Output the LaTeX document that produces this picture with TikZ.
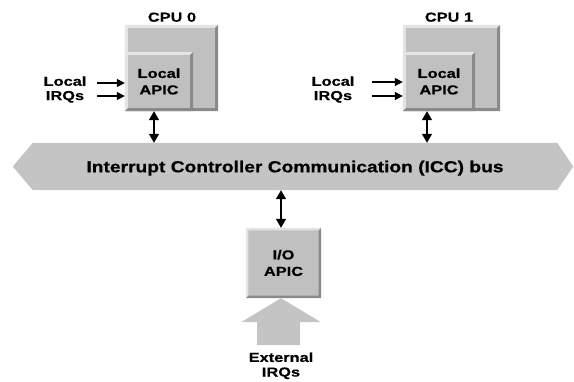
\documentclass[tikz,border=0pt]{standalone}
\usepackage{fontspec}
\setmainfont{Liberation Sans}[FakeStretch=1.26,BoldFeatures={FakeBold=0.6}]
\newfontfamily\busfont{Liberation Sans}[FakeStretch=1.2,BoldFeatures={FakeBold=0.6}]
\usetikzlibrary{arrows.meta,backgrounds}
\definecolor{boxfill}{HTML}{C0C0C0}
\definecolor{bevlight}{HTML}{E4E4E4}
\definecolor{bevdark}{HTML}{8A8A8A}
\definecolor{busfill}{HTML}{C4C4C4}
\newcommand\bevelbox[2]{%
 \fill[bevlight] (#1.south west) -- (#1.north west) -- (#1.north east)
   -- ([xshift=-#2,yshift=-#2]#1.north east) -- ([xshift=#2,yshift=-#2]#1.north west)
   -- ([xshift=#2,yshift=#2]#1.south west) -- cycle;
 \fill[bevdark] (#1.south west) -- (#1.south east) -- (#1.north east)
   -- ([xshift=-#2,yshift=-#2]#1.north east) -- ([xshift=-#2,yshift=#2]#1.south east)
   -- ([xshift=#2,yshift=#2]#1.south west) -- cycle;}
\begin{document}
\begin{tikzpicture}[x=1pt,y=-1pt,
  lbl/.style={font=\bfseries\fontsize{13}{14.3}\selectfont, align=center, inner sep=0pt},
  cpubox/.style={fill=boxfill, inner sep=0pt},
  apicbox/.style={fill=boxfill, inner sep=0pt, font=\bfseries\fontsize{13}{16.5}\selectfont, align=center},
  conn/.style={line width=1.3pt, -{Triangle[length=8pt,width=8pt]}},
  biconn/.style={line width=1.4pt, {Triangle[length=9pt,width=10pt]}-{Triangle[length=9pt,width=10pt]}}]
\useasboundingbox (0,0) rectangle (574,381);
% CPU 0
\node[cpubox, minimum width=93pt, minimum height=86pt] (cpu0) at (171.5,68) {};
\bevelbox{cpu0}{3pt}
\node[apicbox, minimum width=68pt, minimum height=59pt] (apic0) at (159,81.5) {Local\\APIC};
\bevelbox{apic0}{3pt}
\node[lbl] (cpu0lbl) at (172,17.2) {CPU 0};
\node[lbl] (irq0) at (65,89.5) {Local\\IRQs};
% CPU 1
\node[cpubox, minimum width=97pt, minimum height=86pt] (cpu1) at (451.5,68) {};
\bevelbox{cpu1}{3pt}
\node[apicbox, minimum width=72pt, minimum height=59pt] (apic1) at (439,81.5) {Local\\APIC};
\bevelbox{apic1}{3pt}
\node[lbl] (cpu1lbl) at (449,17.2) {CPU 1};
\node[lbl] (irq1) at (333,89.5) {Local\\IRQs};
% bus
\node[inner sep=0pt, minimum width=524pt, minimum height=47pt, text depth=0pt,
      font=\busfont\bfseries\fontsize{16}{18}\selectfont] (bus) at (295,166.5)
      {Interrupt Controller Communication (ICC) bus};
\begin{scope}[on background layer]
\fill[busfill] (bus.north west) -- (bus.north east) -- ([xshift=16pt]bus.east)
  -- (bus.south east) -- (bus.south west) -- ([xshift=-20pt]bus.west) -- cycle;
\end{scope}
% IO APIC
\node[apicbox, minimum width=75pt, minimum height=70pt] (io) at (283.5,263) {I/O\\APIC};
\bevelbox{io}{2.5pt}
% external arrow
\fill[busfill] (io.south) ++(-2.5,0) -- ++(40,24) -- ++(-21,0) -- ++(0,23) -- ++(-43,0)
  -- ++(0,-23) -- ++(-16,0) -- cycle;
\node[lbl, font=\bfseries\fontsize{13}{14.6}\selectfont] (ext) at (281,365.8) {External\\IRQs};
% connectors
\coordinate (s0a) at (97,83);
\coordinate (s0b) at (97,96);
\coordinate (s1a) at (372,82);
\coordinate (s1b) at (372,96);
\draw[conn] (s0a) -- (s0a -| apic0.west);
\draw[conn] (s0b) -- (s0b -| apic0.west);
\draw[conn] (s1a) -- (s1a -| apic1.west);
\draw[conn] (s1b) -- (s1b -| apic1.west);
\draw[biconn] ([xshift=-5pt]apic0.south) -- ([xshift=-5pt]apic0.south |- bus.north);
\draw[biconn] ([xshift=-12pt]apic1.south) -- ([xshift=-12pt]apic1.south |- bus.north);
\draw[biconn] ([xshift=-2.5pt]io.north |- bus.south) -- ([xshift=-2.5pt]io.north);
\end{tikzpicture}
\end{document}
